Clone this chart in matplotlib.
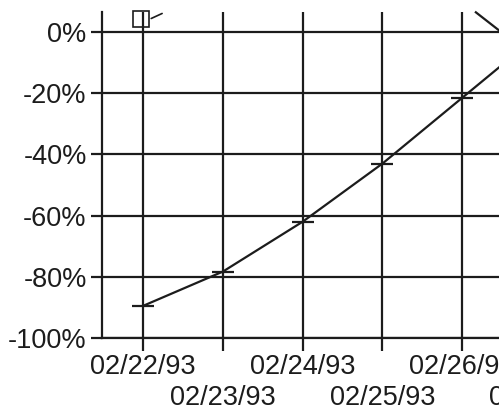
import matplotlib.pyplot as plt

# data
dates = ["02/22/93", "02/23/93", "02/24/93", "02/25/93", "02/26/93", "02/27/93"]
pct = [-89.5, -78.3, -62.0, -43.0, -21.5, 0.0]
yticks = [0, -20, -40, -60, -80, -100]

plt.rcParams['font.family'] = ['Liberation Sans', 'DejaVu Sans']
ink = "#1c1c1c"

fig = plt.figure(figsize=(4.99, 4.11), dpi=100)
# axes run off the right edge of the picture, like the cropped scan
ax = fig.add_axes([102 / 499, 1 - 338 / 411, 480 / 499, 326 / 411])

x = list(range(len(dates)))
ax.plot(x, pct, color=ink, lw=1.6, marker="_", ms=16, mew=1.6, clip_on=False)

ax.set_xlim(-0.515, 5.5)
ax.set_ylim(-100, 6.5)

ax.set_xticks(x)
ax.set_xticklabels(dates, fontsize=19.5)
ax.set_yticks(yticks)
ax.set_yticklabels([f"{v}%" for v in yticks], fontsize=19.5)

ax.tick_params(axis="x", length=9, width=1.6, color=ink, pad=2.5, labelcolor=ink)
ax.tick_params(axis="y", length=8, width=1.6, color=ink, pad=3, labelcolor=ink)
# staggered date labels: every other one drops to a second row
for i, t in enumerate(ax.xaxis.get_major_ticks()):
    if i % 2 == 1:
        t.set_pad(25)
ax.grid(True, color=ink, lw=1.6)

for side in ["top", "right"]:
    ax.spines[side].set_visible(False)
for side in ["left", "bottom"]:
    ax.spines[side].set_color(ink)
    ax.spines[side].set_linewidth(1.6)

# small legend-like marks at the top of the scan
ax.plot([-0.03], [4.2], marker="s", ms=11, mfc="none", mec=ink, mew=1.2, clip_on=False)
ax.annotate("", xy=(0.27, 6.4), xytext=(0.07, 4.0),
            arrowprops=dict(arrowstyle="-", color=ink, lw=1.2), annotation_clip=False)
ax.plot([4.17, 4.47], [6.4, 0.3], color=ink, lw=1.6, clip_on=False)

fig.savefig("out.png", dpi=100)
